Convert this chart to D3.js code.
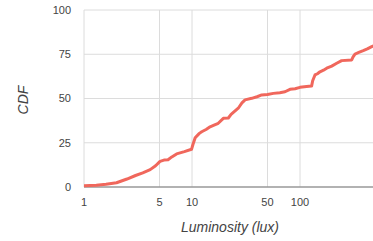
<!DOCTYPE html>
<html><head><meta charset="utf-8">
<script src="https://cdn.jsdelivr.net/npm/d3@7"></script>
<style>body{margin:0;background:#fff}svg{display:block;font-family:"Liberation Sans",Arial,sans-serif}</style>
</head><body>
<svg id="c" width="373" height="241"></svg>
<script>
const luxValues = [1, 1.3, 1.6, 2.0, 2.5, 3.0, 3.5, 4.1, 4.6, 5.06, 5.5, 6.0, 6.5, 7.2, 8.5, 9.9, 10.2, 10.7, 11.7, 12.3, 13.5, 14.7, 16, 17.5, 19.5, 21.7, 23, 26.8, 29, 31, 35.7, 40, 44.2, 50, 56.6, 65, 72.6, 80.8, 90, 100, 115, 128, 131, 137.6, 145, 153, 165, 176.6, 196.6, 218.6, 243, 301, 310, 323, 350, 385, 420, 461, 480];
const cdfValues = [0.7, 1.0, 1.5, 2.4, 4.5, 6.5, 8.0, 9.8, 12, 14.5, 15.2, 15.4, 17, 18.7, 20, 21.3, 24, 27.8, 30.3, 31.2, 32.5, 34, 35, 36, 38.8, 39, 41, 44.5, 47.5, 49.2, 50.1, 51, 52, 52.3, 52.9, 53.3, 53.8, 55.2, 55.5, 56.3, 56.8, 57, 60, 63.3, 64, 65.1, 66, 67.1, 68.3, 69.9, 71.4, 71.8, 73.5, 75.1, 76, 77, 78, 79.3, 79.8];
const xTicks = [1, 5, 10, 50, 100];
const yTicks = [0, 25, 50, 75, 100];

const svg = d3.select("#c");
const L = 84, R = 373, T = 10, B = 187;
const x = d3.scaleLog().domain([1, 474]).range([L, R]);
const y = d3.scaleLinear().domain([0, 100]).range([B, T]);

svg.append("defs").append("clipPath").attr("id","clip")
  .append("rect").attr("x", L).attr("y", 0).attr("width", R - L).attr("height", B + 5);

// grid
svg.append("g").selectAll("line").data(yTicks.filter(d => d > 0)).join("line")
  .attr("x1", L).attr("x2", R).attr("y1", d => y(d)).attr("y2", d => y(d))
  .attr("stroke", "#dcdcdc").attr("stroke-width", 1);
svg.append("g").selectAll("line").data(xTicks).join("line")
  .attr("x1", d => x(d)).attr("x2", d => x(d)).attr("y1", T).attr("y2", B)
  .attr("stroke", "#dcdcdc").attr("stroke-width", 1);

// axis baseline
svg.append("line").attr("x1", L).attr("x2", R).attr("y1", B).attr("y2", B)
  .attr("stroke", "#999").attr("stroke-width", 1.5);

// y tick labels
svg.append("g").selectAll("text").data(yTicks).join("text")
  .attr("x", 71).attr("y", d => y(d)).attr("dy", "0.35em")
  .attr("text-anchor", "end").attr("font-size", 11).attr("fill", "#444")
  .text(d => d);

// x tick labels
svg.append("g").selectAll("text").data(xTicks).join("text")
  .attr("x", d => x(d)).attr("y", 202).attr("dy", "0.35em")
  .attr("text-anchor", "middle").attr("font-size", 11).attr("fill", "#444")
  .text(d => d);

// titles
svg.append("text").attr("transform", "translate(28,100) rotate(-90)")
  .attr("text-anchor", "middle").attr("font-size", 14).attr("font-style", "italic")
  .attr("fill", "#444").text("CDF");
svg.append("text").attr("x", 230).attr("y", 232)
  .attr("text-anchor", "middle").attr("font-size", 14).attr("font-style", "italic")
  .attr("fill", "#444").text("Luminosity (lux)");

// line
const data = luxValues.map((v, i) => [v, cdfValues[i]]);
svg.append("path").datum(data)
  .attr("clip-path", "url(#clip)")
  .attr("fill", "none").attr("stroke", "#f0675c").attr("stroke-width", 3)
  .attr("stroke-linejoin", "round")
  .attr("d", d3.line().x(d => x(d[0])).y(d => y(d[1])));
</script>
</body></html>
